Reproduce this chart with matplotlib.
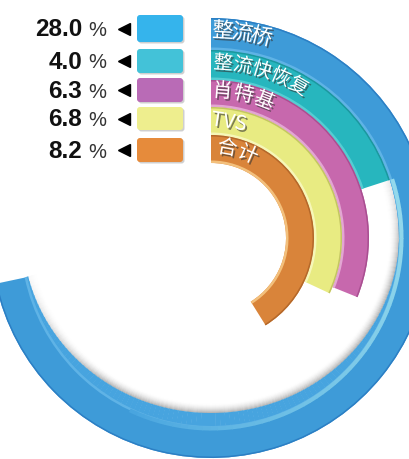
import numpy as np
import matplotlib
matplotlib.use('Agg')
import matplotlib.pyplot as plt
from matplotlib.patches import FancyBboxPatch
import matplotlib.patheffects as pe
from matplotlib.colors import to_rgb

# ---- data ----
labels = ['整流桥', '整流快恢复', '肖特基', 'TVS', '合计']
percents = [28.0, 4.0, 6.3, 6.8, 8.2]
arc_degrees = [258, 72, 112, 115, 148]   # arc extent

ring_colors = ['#3e9bd8', '#27b6be', '#c768ad', '#e8eb82', '#d9843a']
ring_light = ['#5fb3e6', '#55cdd3', '#e3a6d3', '#f6f7b8', '#f3c07c']
ring_dark = ['#2c7fc4', '#1b979f', '#a94f91', '#c3c562', '#b4682a']
legend_colors = ['#35b4ec', '#43c2d8', '#b96bb6', '#eeee8e', '#e68b3b']

# ---- layout ----
W, H = 410, 459
cx, cy = 211, 238
RL = 224
inner = [188, 158, 131, 103, 75]
outer = [220, 188, 158, 131, 103]

fig = plt.figure(figsize=(W / 100, H / 100), dpi=100)
fig.patch.set_facecolor('white')
ax = fig.add_axes([(cx - RL) / W, (H - cy - RL) / H, 2 * RL / W, 2 * RL / H],
                  projection='polar')
ax.set_theta_zero_location('N')
ax.set_theta_direction(-1)
ax.set_ylim(0, RL)
ax.axis('off')
ax.patch.set_alpha(0)


def mix(c1, c2, t):
    a, b = np.array(to_rgb(c1)), np.array(to_rgb(c2))
    return tuple(a + (b - a) * t)


# perspective inner wall + soft shadow of the outer ring (segmented)
seg_edges = np.linspace(72, arc_degrees[0], 125)
mids = 0.5 * (seg_edges[:-1] + seg_edges[1:])
walls = 13 * np.clip(np.cos(np.deg2rad(mids - 180)), 0, None) ** 1.5
rins = inner[0] - walls
strengths = np.clip((mids - 60) / 40, 0, 1) * np.clip((262 - mids) / 45, 0, 1)
wdt = np.deg2rad(seg_edges[1] - seg_edges[0]) * 1.1
nlay = 10
for k in range(nlay):
    for a0, rin, s in zip(seg_edges[:-1], rins, strengths):
        col = mix('white', '#a8a8a8', s * (k / nlay) ** 1.8)
        ax.bar(np.deg2rad(a0), 1.3, width=wdt, bottom=rin - nlay + k,
               align='edge', color=col, linewidth=0, zorder=1)
for a0, rin in zip(seg_edges[:-1], rins):
    ax.bar(np.deg2rad(a0), inner[0] - rin + 0.5, width=wdt, bottom=rin,
           align='edge', color='#47a4df', linewidth=0, zorder=3)

# bands
for i in range(len(labels)):
    w = np.deg2rad(arc_degrees[i])
    ax.bar(0, outer[i] - inner[i], width=w, bottom=inner[i], align='edge',
           color=ring_colors[i], linewidth=0, zorder=2)
    ax.bar(0, 2.5, width=w, bottom=inner[i], align='edge',
           color=ring_light[i], linewidth=0, zorder=3)
    ax.bar(0, 1.5, width=w, bottom=outer[i] - 1.5, align='edge',
           color=ring_dark[i], linewidth=0, zorder=3)

# light strip on outer ring inner edge
segs = np.linspace(72, 205, 60)
for a0, a1 in zip(segs[:-1], segs[1:]):
    t = (a0 - 72) / 133
    col = mix('#93d9ec', '#47a4df', t ** 1.5)
    ax.bar(np.deg2rad(a0), 4, width=np.deg2rad(a1 - a0) * 1.1, bottom=188.5,
           align='edge', color=col, linewidth=0, zorder=4)

# labels along the arcs
shadow = [pe.SimplePatchShadow(offset=(1.2, -1.4), shadow_rgbFace='#333333', alpha=0.6),
          pe.Normal()]
cjk = ['Noto Sans CJK SC', 'DejaVu Sans']
text_r = [207, 175, 147, 117, 91]
text_start = [3.3, 4.0, 4.5, 8.8, 10.3]
text_step = [5.4, 6.5, 8.4, 0, 13.5]
text_size = [15.5, 14, 14.5, 14.5, 14.5]
for i, lab in enumerate(labels):
    if lab.isascii():
        th = text_start[i]
        ax.text(np.deg2rad(th), text_r[i], lab, rotation=-th, rotation_mode='anchor',
                ha='center', va='center', color='white', fontsize=text_size[i],
                family=cjk, fontweight='medium', path_effects=shadow, zorder=6)
    else:
        for k, ch in enumerate(lab):
            th = text_start[i] + k * text_step[i]
            ax.text(np.deg2rad(th), text_r[i], ch, rotation=-th, rotation_mode='anchor',
                    ha='center', va='center', color='white', fontsize=text_size[i],
                    family=cjk, fontweight='medium', path_effects=shadow, zorder=6)

# ---- legend ----
ax2 = fig.add_axes([0, 0, 1, 1])
ax2.set_xlim(0, W)
ax2.set_ylim(H, 0)
ax2.axis('off')
ax2.patch.set_alpha(0)

row_y = [28.5, 61, 90, 118.5, 150]
box_h = [27, 24, 24, 23, 24]
for i, p in enumerate(percents):
    y = row_y[i]
    ax2.text(82, y + 8, f'{p:.1f}', ha='right', va='baseline', fontsize=17.5,
             fontweight='bold', family='Liberation Sans', color='#111111')
    ax2.text(88, y + 7.5, '%', ha='left', va='baseline', fontsize=14.5,
             family='Liberation Sans', color='#333333')
    ax2.plot(124, y, marker='<', ms=9, color='black', mec='black')
    sh = FancyBboxPatch((138.5, y - box_h[i] / 2 + 1.5), 46, box_h[i],
                        boxstyle='round,pad=0,rounding_size=3',
                        facecolor='#777777', alpha=0.35, linewidth=0)
    ax2.add_patch(sh)
    bx = FancyBboxPatch((137, y - box_h[i] / 2), 46, box_h[i],
                        boxstyle='round,pad=0,rounding_size=3',
                        facecolor=legend_colors[i], linewidth=0)
    ax2.add_patch(bx)

fig.savefig('out.png', dpi=100, facecolor='white')
